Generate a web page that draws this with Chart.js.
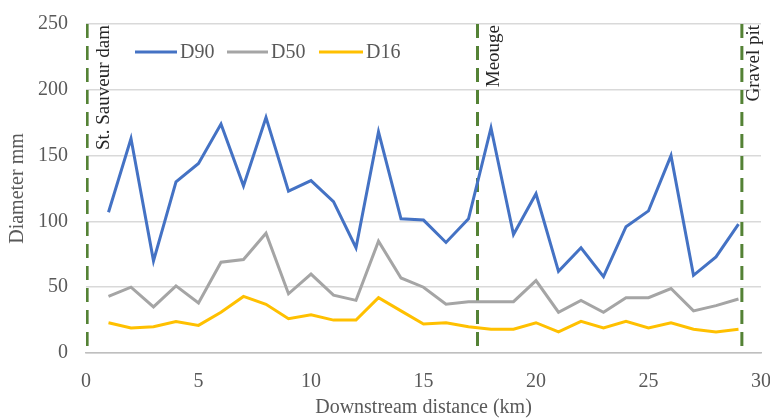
<!DOCTYPE html>
<html>
<head>
<meta charset="utf-8">
<script src="https://cdn.jsdelivr.net/npm/chart.js@4/dist/chart.umd.min.js"></script>
<style>
  html, body { margin: 0; padding: 0; background: #fff; }
  #wrap { width: 770px; height: 420px; position: relative; }
</style>
</head>
<body>
<div id="wrap"><canvas id="grainChart"></canvas></div>
<script>
// grain size along the river (km downstream)
const distanceKm = [1, 2, 3, 4, 5, 6, 7, 8, 9, 10, 11, 12, 13, 14, 15, 16, 17, 18, 19, 20, 21, 22, 23, 24, 25, 26, 27, 28, 29];
const d90 = [107, 163, 70, 130, 144, 174, 127, 179, 123, 131, 115, 80, 168, 102, 101, 84, 102, 171, 90, 121, 62, 80, 58, 96, 108, 150, 59, 73, 98];
const d50 = [43, 50, 35, 51, 38, 69, 71, 91, 45, 60, 44, 40, 85, 57, 50, 37, 39, 39, 39, 55, 31, 40, 31, 42, 42, 49, 32, 36, 41];
const d16 = [23, 19, 20, 24, 21, 31, 43, 37, 26, 29, 25, 25, 42, 32, 22, 23, 20, 18, 18, 23, 16, 24, 19, 24, 19, 23, 18, 16, 18];

const markerKm = [0.05, 17.4, 29.15];
const markerLabels = ["St. Sauveur dam", "Meouge", "Gravel pit"];

const seriesNames = ["D90", "D50", "D16"];
const seriesColors = ["#4472C4", "#A5A5A5", "#FFC000"];
const SERIF = "'Liberation Serif', 'Times New Roman', serif";

function toPoints(ys) { return distanceKm.map((x, i) => ({ x: x, y: ys[i] })); }

const datasets = [d90, d50, d16].map((ys, i) => ({
    label: seriesNames[i], data: toPoints(ys), borderColor: seriesColors[i],
    borderWidth: 3, pointRadius: 0, tension: 0, fill: false
}));
// vertical dashed site markers, drawn top -> bottom so the dash starts at 250
markerKm.forEach((km, i) => {
    datasets.push({
        label: markerLabels[i], data: [{ x: km, y: 250 }, { x: km, y: 0 }],
        borderColor: "#548235", borderWidth: 3, borderDash: [14, 8], pointRadius: 0, fill: false
    });
});

// rotated labels next to the markers + legend inside the plot
const annotatePlugin = {
    id: 'annotate',
    afterDatasetsDraw(chart) {
        const ctx = chart.ctx, xs = chart.scales.x, top = chart.chartArea.top;
        ctx.save();
        ctx.font = "19px " + SERIF;
        ctx.fillStyle = "#262626";
        ctx.textAlign = "right";
        ctx.textBaseline = "middle";
        markerKm.forEach((km, i) => {
            const px = xs.getPixelForValue(km) + (i === 2 ? 12 : 17);
            ctx.save();
            ctx.translate(px, top);
            ctx.rotate(-Math.PI / 2);
            ctx.fillText(markerLabels[i], -1, 0);
            ctx.restore();
        });
        // legend
        const legX = [135, 227, 319], lineLen = [42, 41, 44], ly = 52;
        ctx.font = "20px " + SERIF;
        ctx.textAlign = "left";
        ctx.fillStyle = "#595959";
        seriesNames.forEach((n, i) => {
            ctx.strokeStyle = seriesColors[i];
            ctx.lineWidth = 3;
            ctx.beginPath();
            ctx.moveTo(legX[i], ly);
            ctx.lineTo(legX[i] + lineLen[i], ly);
            ctx.stroke();
            ctx.fillText(n, legX[i] + lineLen[i] + 3, ly + 1);
        });
        ctx.restore();
    }
};

new Chart(document.getElementById('grainChart'), {
    type: 'line',
    data: { datasets: datasets },
    plugins: [annotatePlugin],
    options: {
        responsive: true, maintainAspectRatio: false, animation: false,
        layout: { padding: { top: 24, right: 9, left: 0, bottom: 0 } },
        plugins: { legend: { display: false }, tooltip: { enabled: false } },
        scales: {
            x: {
                type: 'linear', min: 0, max: 30,
                ticks: { stepSize: 5, color: "#595959", font: { family: SERIF, size: 20 }, padding: 17, maxRotation: 0 },
                grid: { display: true, drawOnChartArea: false, drawTicks: false, color: "#bfbfbf" },
                border: { display: true, color: "#bfbfbf", width: 1.5 },
                title: { display: true, text: "Downstream distance (km)", color: "#595959",
                         font: { family: SERIF, size: 20, lineHeight: 1.2 }, padding: { top: 0, bottom: 0 } },
                afterFit(scale) { scale.height = 67; scale.paddingLeft = 0; scale.paddingRight = 0; }
            },
            y: {
                min: 0, max: 250,
                ticks: { stepSize: 50, color: "#595959", font: { family: SERIF, size: 20 }, padding: 18 },
                grid: { color: "#d9d9d9", lineWidth: 1.5, drawTicks: false },
                border: { display: false },
                title: { display: true, text: "Diameter mm", color: "#595959",
                         font: { family: SERIF, size: 20, lineHeight: 1.2 }, padding: { top: 6, bottom: 6 } },
                afterFit(scale) { scale.width = 86; scale.paddingTop = 0; scale.paddingBottom = 0; }
            }
        }
    }
});
</script>
</body>
</html>
